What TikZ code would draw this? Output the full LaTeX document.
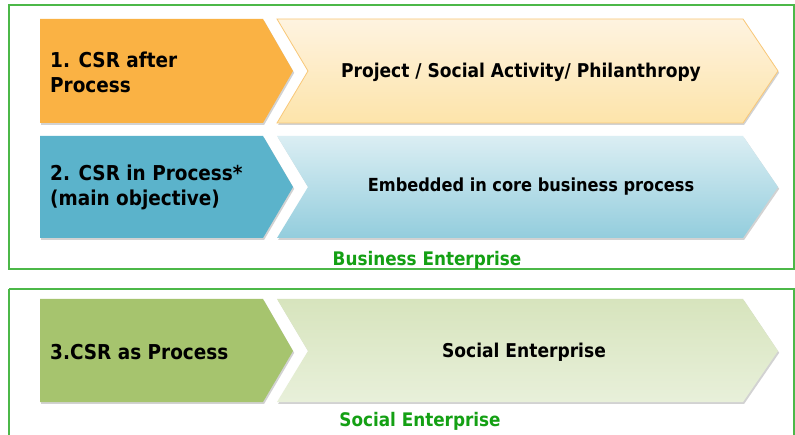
\documentclass[tikz,border=0pt]{standalone}
\usepackage{fontspec}
\setmainfont{DejaVu Sans Condensed}
\usetikzlibrary{shadows}
\definecolor{boxgreen}{RGB}{76,184,72}
\definecolor{labgreen}{RGB}{20,160,20}
\definecolor{orangeL}{RGB}{250,178,68}
\definecolor{orangeT}{RGB}{254,243,224}
\definecolor{orangeB}{RGB}{253,228,170}
\definecolor{orangeD}{RGB}{249,200,120}
\definecolor{blueL}{RGB}{91,179,203}
\definecolor{blueT}{RGB}{219,238,243}
\definecolor{blueB}{RGB}{147,205,221}
\definecolor{greenL}{RGB}{166,196,110}
\definecolor{greenT}{RGB}{215,228,189}
\definecolor{greenB}{RGB}{232,240,218}
\tikzset{
  frame/.style={draw=boxgreen,line width=1.4pt},
  shd/.style={drop shadow={shadow xshift=1.2pt,shadow yshift=-1.8pt,opacity=0.35,fill=gray}},
  lefttxt/.style={anchor=west,align=left,font=\bfseries\fontsize{20.5}{25}\selectfont,text=black,inner sep=0pt},
  righttxt/.style={anchor=center,font=\bfseries\fontsize{19}{23}\selectfont,text=black,inner sep=0pt},
  grouplab/.style={anchor=center,font=\bfseries\fontsize{18.7}{22}\selectfont,text=labgreen,inner sep=0pt}
}
\begin{document}
\begin{tikzpicture}[x=1pt,y=-1pt]
\useasboundingbox (0,0) rectangle (795,435);
\fill[white] (0,0) rectangle (795,435);
% frames
\draw[frame] (9,5) rectangle (794,269);
\draw[frame] (9,289) -- (9,440) (9,289) -- (794,289) -- (794,440);
% row 1
\path[shd,fill=orangeL] (40,19) -- (263,19) -- (293,71) -- (263,123) -- (40,123) -- cycle;
\path[shd,draw=orangeD,line width=0.8pt,top color=orangeT,bottom color=orangeB] (277,19) -- (743,19) -- (778,71) -- (743,123) -- (277,123) -- (308,71) -- cycle;
% row 2
\path[shd,fill=blueL] (40,136) -- (263,136) -- (293,187) -- (263,238) -- (40,238) -- cycle;
\path[shd,top color=blueT,bottom color=blueB] (277,136) -- (743,136) -- (778,187) -- (743,238) -- (277,238) -- (308,187) -- cycle;
% row 3
\path[shd,fill=greenL] (40,299) -- (263,299) -- (293,351) -- (263,402) -- (40,402) -- cycle;
\path[shd,top color=greenT,bottom color=greenB] (277,299) -- (743,299) -- (778,351) -- (743,402) -- (277,402) -- (308,351) -- cycle;
% texts
\node[lefttxt] (l1) at (50,72.5) {1. CSR after\\Process};
\node[righttxt] (r1) at (521,72) {Project / Social Activity/ Philanthropy};
\node[lefttxt] (l2) at (50,187) {2. CSR in Process*\\(main objective)};
\node[righttxt,font=\bfseries\fontsize{18}{22}\selectfont] (r2) at (531,187) {Embedded in core business process};
\node[lefttxt] (l3) at (50,352) {3.CSR as Process};
\node[righttxt] (r3) at (524,352) {Social Enterprise};
\node[grouplab] (g1) at (427,260) {Business Enterprise};
\node[grouplab] (g2) at (420,421) {Social Enterprise};
\end{tikzpicture}
\end{document}
